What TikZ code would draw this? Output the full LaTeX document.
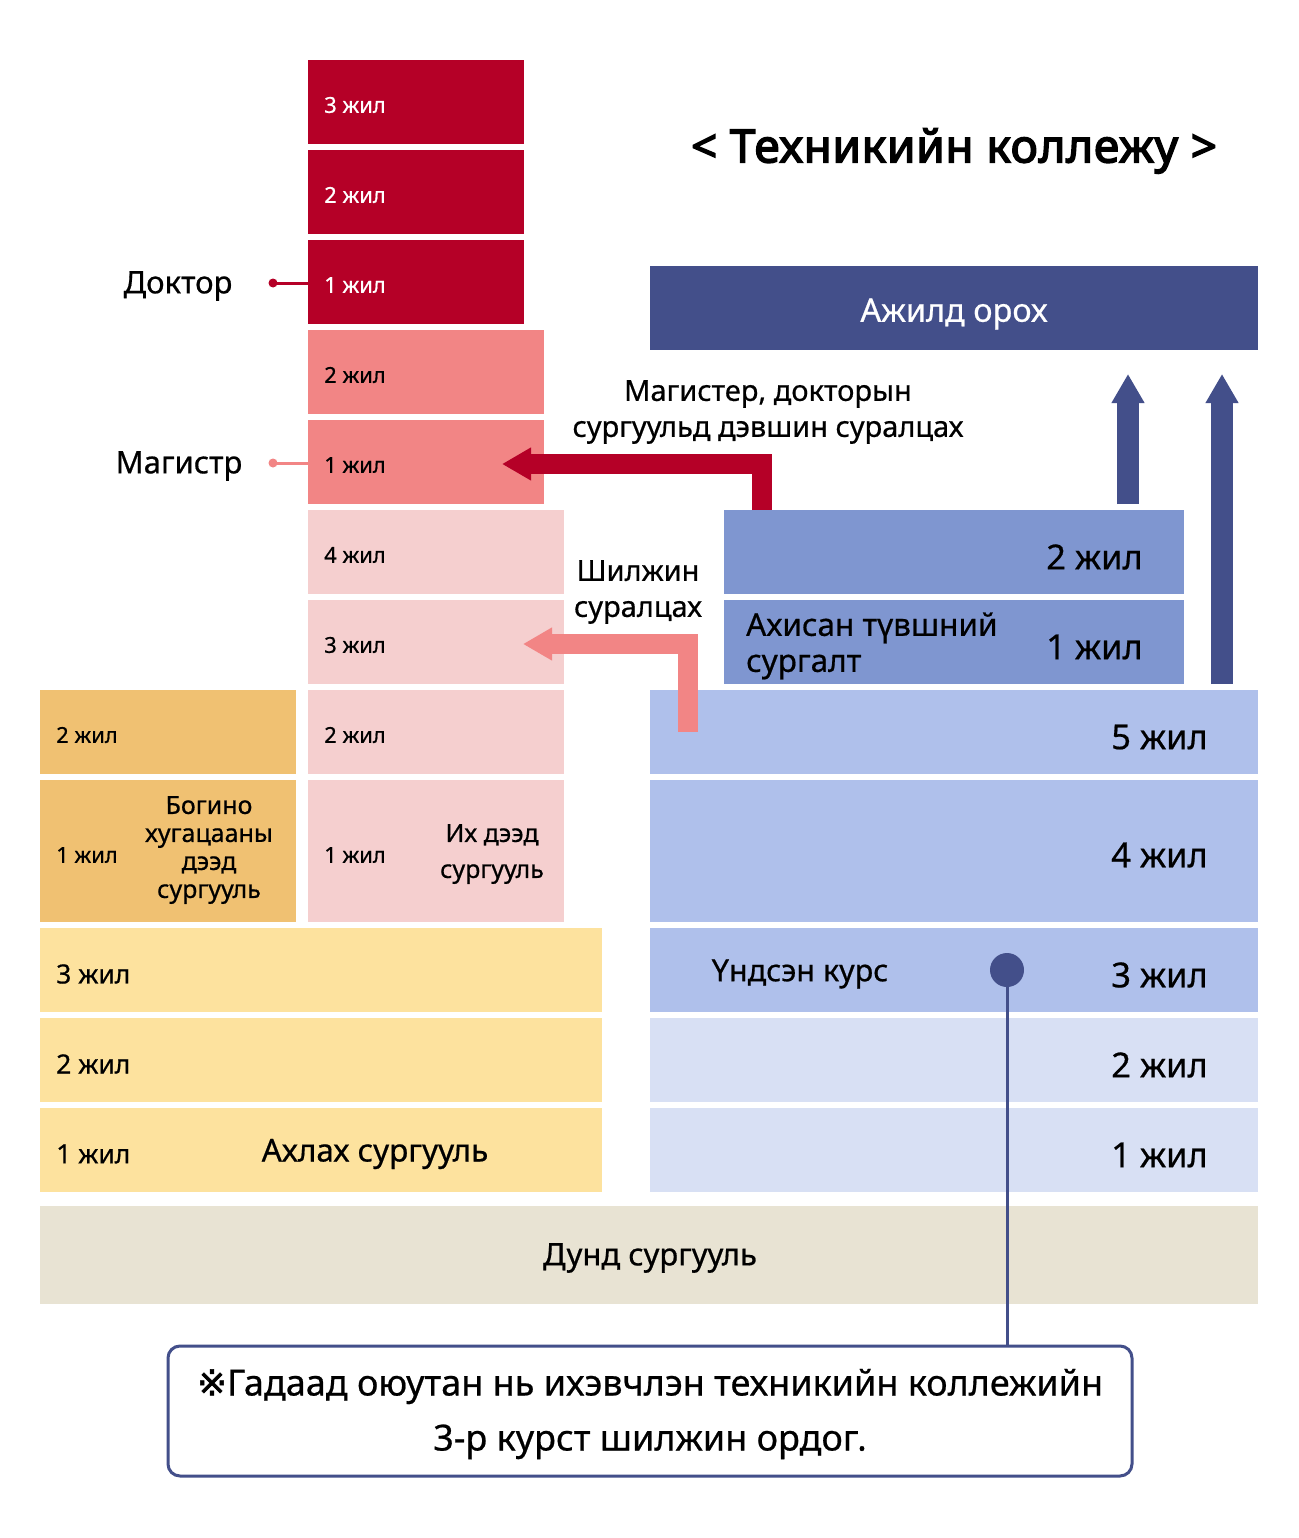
\documentclass[tikz,border=0pt]{standalone}
\usepackage{fontspec}
\setmainfont{Noto Sans}[FakeBold=0.6]
\newfontfamily\titlefont{Noto Sans}[FakeBold=3.2,LetterSpace=1.5]
\newfontfamily\djv{DejaVu Sans}[FakeBold=1.5]
\usetikzlibrary{arrows.meta}
\definecolor{cRed}{HTML}{B50027}
\definecolor{cMag}{HTML}{F28585}
\definecolor{cBach}{HTML}{F5CFCF}
\definecolor{cOra}{HTML}{F0C172}
\definecolor{cYel}{HTML}{FDE29E}
\definecolor{cMid}{HTML}{E8E3D3}
\definecolor{cNavy}{HTML}{434F8A}
\definecolor{cAdv}{HTML}{7F96D0}
\definecolor{cColA}{HTML}{AFC0EB}
\definecolor{cColB}{HTML}{D8E0F4}
\newcommand\mybox[6]{\node[blk,fill=#2,minimum width={(#5-#3)*1pt},minimum height={(#6-#4)*1pt},anchor=north west] (#1) at (#3,#4) {};}
\tikzset{
  blk/.style={inner sep=0pt,outer sep=0pt,draw=none},
  smallyr/.style={inner sep=0pt,anchor=west,font=\fontsize{22}{26}\selectfont},
  midyr/.style={inner sep=0pt,anchor=west,font=\fontsize{26.5}{30}\selectfont},
  bigyr/.style={inner sep=0pt,anchor=east,font=\fontsize{34.5}{40}\selectfont},
  lbl/.style={inner sep=0pt,align=center},
  fatarrow/.style={line width=#1pt,-{Triangle[width=31pt,length=29pt]}},
}
\begin{document}
\begin{tikzpicture}[x=1pt,y=-1pt]
\useasboundingbox[fill=white] (0,0) rectangle (1298,1538);
% doctor
\mybox{d3}{cRed}{308}{60}{524}{144}
\mybox{d2}{cRed}{308}{150}{524}{234}
\mybox{d1}{cRed}{308}{240}{524}{324}
% magistr
\mybox{m2}{cMag}{308}{330}{544}{414}
\mybox{m1}{cMag}{308}{420}{544}{504}
% bachelor
\mybox{b4}{cBach}{308}{510}{564}{594}
\mybox{b3}{cBach}{308}{600}{564}{684}
\mybox{b2}{cBach}{308}{690}{564}{774}
\mybox{b1}{cBach}{308}{780}{564}{922}
% short college
\mybox{s2}{cOra}{40}{690}{296}{774}
\mybox{s1}{cOra}{40}{780}{296}{922}
% high school
\mybox{h3}{cYel}{40}{928}{602}{1012}
\mybox{h2}{cYel}{40}{1018}{602}{1102}
\mybox{h1}{cYel}{40}{1108}{602}{1192}
% middle
\mybox{mid}{cMid}{40}{1206}{1258}{1304}
% right
\mybox{job}{cNavy}{650}{266}{1258}{350}
\mybox{a2}{cAdv}{724}{510}{1184}{594}
\mybox{a1}{cAdv}{724}{600}{1184}{684}
\mybox{c5}{cColA}{650}{690}{1258}{774}
\mybox{c4}{cColA}{650}{780}{1258}{922}
\mybox{c3}{cColA}{650}{928}{1258}{1012}
\mybox{c2}{cColB}{650}{1018}{1258}{1102}
\mybox{c1}{cColB}{650}{1108}{1258}{1192}

% year labels left column
\node[smallyr,text=white] (d3t) at (324,105) {3 жил};
\node[smallyr,text=white] (d2t) at (324,195) {2 жил};
\node[smallyr,text=white] (d1t) at (324,285) {1 жил};
\node[smallyr] (m2t) at (324,375) {2 жил};
\node[smallyr] (m1t) at (324,465) {1 жил};
\node[smallyr] (b4t) at (324,555) {4 жил};
\node[smallyr] (b3t) at (324,645) {3 жил};
\node[smallyr] (b2t) at (324,735) {2 жил};
\node[smallyr] (b1t) at (324,855) {1 жил};
\node[smallyr] (s2t) at (56,735) {2 жил};
\node[smallyr] (s1t) at (56,855) {1 жил};
\node[midyr] (h3t) at (56,974) {3 жил};
\node[midyr] (h2t) at (56,1064) {2 жил};
\node[midyr] (h1t) at (56,1154) {1 жил};

% year labels right column
\node[bigyr] (a2t) at (1143,557) {2 жил};
\node[bigyr] (a1t) at (1143,647) {1 жил};
\node[bigyr] (c5t) at (1208,737) {5 жил};
\node[bigyr] (c4t) at (1208,855) {4 жил};
\node[bigyr] (c3t) at (1208,975) {3 жил};
\node[bigyr] (c2t) at (1208,1065) {2 жил};
\node[bigyr] (c1t) at (1208,1155) {1 жил};

% other labels
\node[lbl,font=\fontsize{46}{52}\selectfont\titlefont] (title) at (954,151) {< Техникийн коллежу >};
\node[lbl,text=white,font=\fontsize{32.5}{36}\selectfont] (jobt) at (954,314) {Ажилд орох};
\node[lbl,font=\fontsize{31}{34}\selectfont] (doct) at (178,286) {Доктор};
\node[lbl,font=\fontsize{31}{34}\selectfont] (magt) at (179,466) {Магистр};
\node[lbl,font=\fontsize{29}{36}\selectfont] (upt) at (768,412) {Магистер, докторын\\сургуульд дэвшин суралцах};
\node[lbl,font=\fontsize{29}{36}\selectfont] (trt) at (638,592) {Шилжин\\суралцах};
\node[lbl,anchor=west,align=left,font=\fontsize{31.5}{36}\selectfont] (advt) at (746,646) {Ахисан түвшний\\сургалт};
\node[lbl,font=\fontsize{25}{28}\selectfont] (shortt) at (209,850) {Богино\\хугацааны\\дээд\\сургууль};
\node[lbl,font=\fontsize{25}{36}\selectfont] (unit) at (492,854) {Их дээд\\сургууль};
\node[lbl,font=\fontsize{31.5}{34}\selectfont] (hst) at (375,1154) {Ахлах сургууль};
\node[lbl,font=\fontsize{31}{34}\selectfont] (midt) at (650,1258) {Дунд сургууль};
\node[lbl,font=\fontsize{30.5}{34}\selectfont] (baset) at (800,974) {Үндсэн курс};

% markers for doctor / magistr
\node[circle,fill=cRed,inner sep=0pt,minimum size=9pt] (ddot) at (273,283) {};
\draw[cRed,line width=3pt] (ddot.center) -- (d1.west |- ddot);
\node[circle,fill=cMag,inner sep=0pt,minimum size=9pt] (mdot) at (273,463) {};
\draw[cMag,line width=3pt] (mdot.center) -- (m1.west |- mdot);

% arrows
\coordinate (rs) at (762,510);
\coordinate (rt) at (502,464);
\draw[cRed,fatarrow=20] (rs) |- (rt);
\coordinate (ps) at (688,732);
\coordinate (pt) at (523,644);
\draw[cMag,fatarrow=20] (ps) |- (pt);
\coordinate (u1s) at (1128,504);
\coordinate (u1t) at (1128,374);
\draw[cNavy,fatarrow=22] (u1s) -- (u1t);
\coordinate (u2s) at (1222,684);
\coordinate (u2t) at (1222,374);
\draw[cNavy,fatarrow=22] (u2s) -- (u2t);

% note
\node[draw=cNavy,line width=3pt,rounded corners=12pt,fill=white,minimum width=964pt,minimum height=130pt,inner sep=0pt] (note) at (650,1411) {};
\node[lbl,font=\fontsize{36}{55}\selectfont] (notet) at (650,1414) {{\djv ※}Гадаад оюутан нь ихэвчлэн техникийн коллежийн\\3-р курст шилжин ордог.};
\node[circle,fill=cNavy,inner sep=0pt,minimum size=34pt] (udot) at (1007,970) {};
\draw[cNavy,line width=3pt] (udot.center) -- (udot |- note.north);
\end{tikzpicture}
\end{document}
